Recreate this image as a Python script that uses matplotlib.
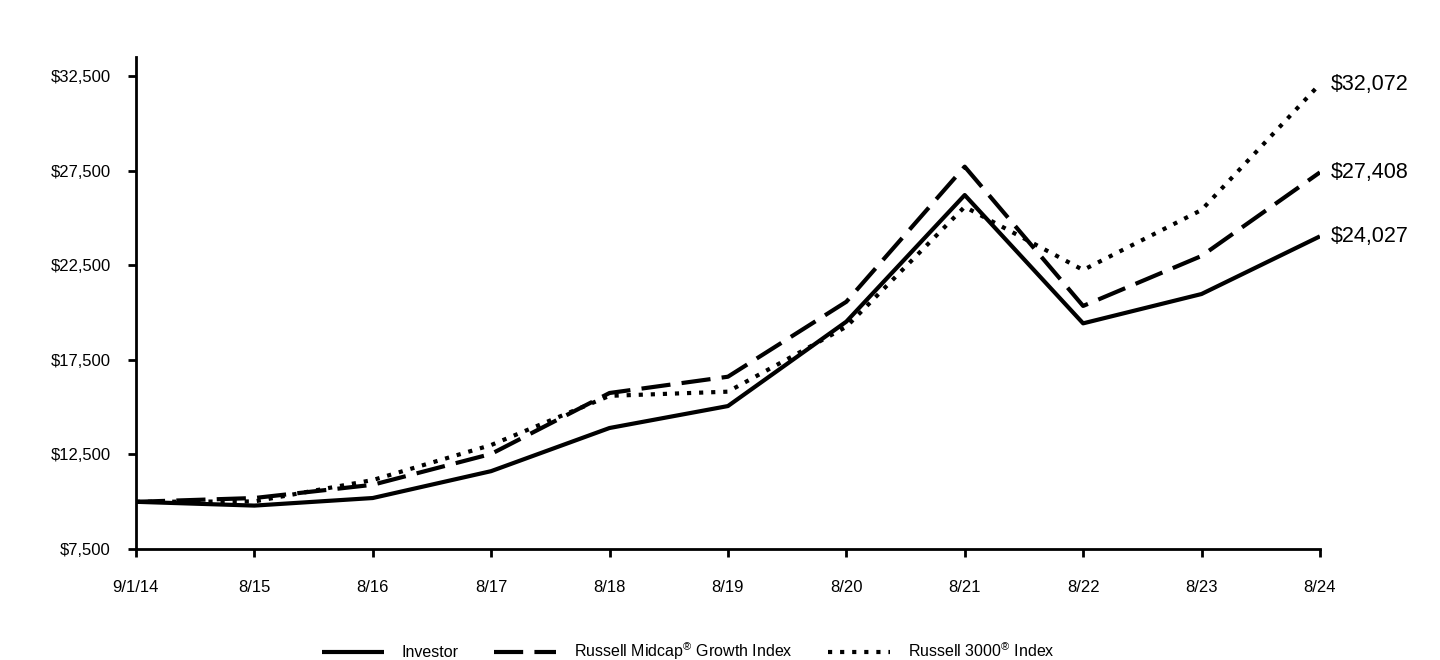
import matplotlib
matplotlib.use("Agg")
import matplotlib.pyplot as plt
from matplotlib.ticker import FuncFormatter

plt.rcParams['font.family'] = ['Liberation Sans', 'DejaVu Sans']
plt.rcParams['mathtext.fontset'] = 'custom'
plt.rcParams['mathtext.rm'] = 'Liberation Sans'

# growth of $10,000
dates = ['9/1/14', '8/15', '8/16', '8/17', '8/18', '8/19', '8/20', '8/21', '8/22', '8/23', '8/24']
investor = [10000, 9800, 10200, 11620, 13900, 15060, 19520, 26210, 19430, 20980, 24027]
midcap = [10000, 10200, 10900, 12530, 15750, 16610, 20570, 27710, 20350, 22990, 27408]
r3000 = [10000, 10020, 11150, 13000, 15600, 15820, 19250, 25590, 22250, 25420, 32072]
yticks = [7500, 12500, 17500, 22500, 27500, 32500]

fig = plt.figure(figsize=(14.4, 6.6), dpi=100)
ax = fig.add_axes([0.0944, 0.168, 0.8222, 0.7455])

x = list(range(len(dates)))
lw = 3.0
ax.plot(x, investor, color='black', lw=lw, solid_capstyle='butt', label='Investor')
ax.plot(x, midcap, color='black', lw=lw, dashes=(7, 2.7), dash_capstyle='butt',
        label='Russell Midcap$^{®}$ Growth Index')
ax.plot(x, r3000, color='black', lw=lw, dashes=(1, 1.9), dash_capstyle='butt',
        label='Russell 3000$^{®}$ Index')

for series in (investor, midcap, r3000):
    ax.annotate('\\$' + format(series[-1], ','), xy=(x[-1], series[-1]),
                xytext=(8, 0), textcoords='offset points', va='center', ha='left',
                fontsize=15.5)

ax.set_xlim(0, len(dates) - 1)
ax.set_ylim(7500, 33500)
ax.set_xticks(x)
ax.set_xticklabels(dates)
ax.set_yticks(yticks)
ax.yaxis.set_major_formatter(FuncFormatter(lambda v, p: '\\$' + format(int(v), ',')))
ax.tick_params(axis='both', labelsize=12, width=2, length=6, direction='out', color='black')
ax.tick_params(axis='x', pad=16)
ax.tick_params(axis='y', pad=12)
for s in ['top', 'right']:
    ax.spines[s].set_visible(False)
for s in ['left', 'bottom']:
    ax.spines[s].set_linewidth(2)

fig.legend(loc='lower center', bbox_to_anchor=(0.478, -0.025), ncol=3, frameon=False,
           fontsize=11.5, handlelength=3.9, columnspacing=2.2, handletextpad=1.1)

fig.savefig('out.png', dpi=100)
